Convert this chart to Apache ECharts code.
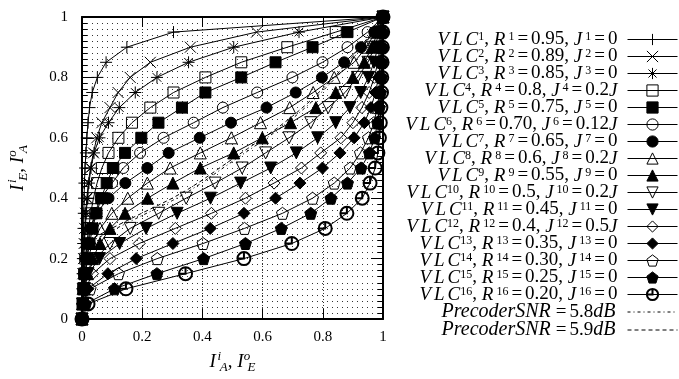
<!DOCTYPE html>
<html>
<head>
<meta charset="utf-8">
<script src="https://cdn.jsdelivr.net/npm/echarts@6/dist/echarts.min.js"></script>
<style>
html, body { margin: 0; padding: 0; background: #fff; }
#main { width: 679px; height: 379px; }
</style>
</head>
<body>
<div id="main"></div>
<script>
// I_E 水平（每条VLC曲线的标记都在这些高度上）
var ieLevels = [0, 0.05, 0.1, 0.15, 0.2, 0.25, 0.3, 0.35, 0.4, 0.45, 0.5,
                0.55, 0.6, 0.65, 0.7, 0.75, 0.8, 0.85, 0.9, 0.95, 1];

// 各VLC曲线在上述高度处的横坐标
var vlc1  = [0, .001, .001, .002, .003, .004, .005, .006, .007, .008, .010, .013, .016, .020, .025, .034, .051, .080, .149, .304, 1];
var vlc2  = [0, .001, .002, .003, .005, .007, .009, .012, .016, .021, .028, .038, .049, .066, .093, .120, .160, .227, .360, .580, 1];
var vlc3  = [0, .001, .003, .004, .006, .008, .011, .014, .018, .023, .030, .040, .058, .088, .124, .177, .249, .354, .504, .721, 1];
var vlc4  = [0, .002, .004, .007, .011, .016, .022, .029, .038, .050, .066, .088, .121, .166, .227, .304, .410, .529, .682, .843, 1];
var vlc5  = [0, .003, .006, .010, .017, .025, .035, .048, .064, .082, .104, .143, .197, .254, .332, .410, .529, .643, .766, .882, 1];
var vlc6  = [0, .003, .007, .011, .016, .022, .030, .042, .062, .100, .137, .193, .271, .371, .468, .582, .699, .799, .882, .949, 1];
var vlc7  = [0, .002, .004, .007, .011, .018, .028, .048, .088, .144, .217, .288, .391, .495, .613, .710, .797, .871, .927, .971, 1];
var vlc8  = [0, .002, .005, .010, .020, .035, .060, .099, .152, .217, .293, .393, .496, .593, .690, .768, .838, .904, .945, .975, 1];
var vlc9  = [0, .003, .008, .018, .035, .060, .093, .143, .218, .302, .393, .504, .599, .693, .777, .843, .900, .938, .963, .983, 1];
var vlc10 = [0, .002, .006, .015, .045, .093, .160, .255, .346, .442, .532, .610, .688, .760, .818, .874, .915, .950, .972, .988, 1];
var vlc11 = [0, .003, .008, .020, .058, .125, .213, .316, .427, .527, .627, .712, .783, .843, .890, .926, .952, .970, .983, .992, 1];
var vlc12 = [0, .003, .012, .035, .093, .190, .310, .430, .543, .638, .729, .793, .860, .900, .930, .954, .971, .983, .990, .995, 1];
var vlc13 = [0, .004, .020, .086, .180, .302, .426, .538, .643, .724, .799, .857, .904, .938, .960, .975, .985, .991, .995, .997, 1];
var vlc14 = [0, .005, .027, .121, .250, .402, .540, .666, .766, .838, .891, .925, .952, .970, .981, .988, .993, .995, .997, .998, 1];
var vlc15 = [0, .012, .108, .249, .404, .543, .662, .760, .827, .882, .927, .955, .972, .982, .988, .992, .995, .997, .998, .999, 1];
var vlc16 = [0, .020, .146, .344, .538, .697, .808, .880, .931, .957, .974, .983, .988, .991, .993, .995, .996, .997, .998, .999, 1];

// 预编码器曲线
var precoderIa = [0, 0.05, 0.1, 0.15, 0.2, 0.25, 0.3, 0.35, 0.4, 0.45, 0.5,
                  0.55, 0.6, 0.65, 0.7, 0.75, 0.8, 0.85, 0.9, 0.95, 1];
var precoder58 = [.240, .267, .293, .318, .343, .367, .392, .420, .452, .487, .522,
                  .556, .590, .625, .664, .707, .755, .806, .862, .925, 1];
var precoder59 = [.248, .275, .301, .326, .351, .375, .400, .428, .460, .495, .530,
                  .564, .598, .633, .672, .715, .763, .814, .870, .932, 1];

// 图例文字
var vlcRates = ['0.95', '0.89', '0.85', '0.8', '0.75', '0.70', '0.65', '0.6',
                '0.55', '0.5', '0.45', '0.4', '0.35', '0.30', '0.25', '0.20'];
var vlcJ = ['0', '0', '0', '0.2J', '0', '0.12J', '0', '0.2J',
            '0', '0.2J', '0', '0.5J', '0', '0', '0', '0'];
var precoderSnr = ['5.8', '5.9'];

var tickLabels = ['0', '0.2', '0.4', '0.6', '0.8', '1'];

var vlcCurves = [vlc1, vlc2, vlc3, vlc4, vlc5, vlc6, vlc7, vlc8,
                 vlc9, vlc10, vlc11, vlc12, vlc13, vlc14, vlc15, vlc16];

var pentagon = 'path://M0,-1L0.951,-0.309L0.588,0.809L-0.588,0.809L-0.951,-0.309Z';
var downTri = 'path://M0,1L-1,-1L1,-1Z';
var symbols = [
    'path://M0,-1L0,1M-1,0L1,0',
    'path://M-1,-1L1,1M-1,1L1,-1',
    'path://M0,-1L0,1M-1,0L1,0M-0.72,-0.72L0.72,0.72M-0.72,0.72L0.72,-0.72',
    'rect', 'rect', 'circle', 'circle', 'triangle', 'triangle',
    downTri, downTri, 'diamond', 'diamond', pentagon, pentagon,
    'path://M0,-1A1,1,0,1,1,0,1A1,1,0,1,1,0,-1ZM0,-1L0,0L-1,0'
];
var filled = [0, 0, 0, 0, 1, 0, 1, 0, 1, 0, 1, 0, 1, 0, 1, 0];
var sizes = [12, 11, 12, 11, 11, 11, 11, 12, 12, 12, 12, 12, 12, 12, 12, 13];

var font = 'Liberation Serif';

var series = [];
var legendData = [];
var legendText = {};

function eq(v) {
    return '{e|=}{n|' + v + '}';
}

vlcCurves.forEach(function (xs, k) {
    var name = 'VLC' + (k + 1);
    var pts = xs.map(function (x, i) { return [x, ieLevels[i]]; });
    series.push({
        name: name,
        type: 'line',
        data: pts,
        symbol: symbols[k],
        symbolSize: sizes[k],
        showAllSymbol: true,
        clip: false,
        lineStyle: { color: '#000', width: 1 },
        itemStyle: {
            color: filled[k] ? '#000' : 'rgba(0,0,0,0)',
            borderColor: '#000',
            borderWidth: k === 15 ? 2 : 1
        }
    });
    var j = vlcJ[k];
    var jTxt = j.slice(-1) === 'J' ? eq(j.slice(0, -1)) + '{i|J}' : eq(j);
    var sup = '{s|' + (k + 1) + '}';
    legendText[name] = '{v|V}{v|L}{i|C}' + sup + '{n|, }{v|R}' + sup + eq(vlcRates[k] + ', ') +
        '{v|J}' + sup + jTxt + '{g| }';
    legendData.push({ name: name, itemStyle: { borderWidth: k === 15 ? 2 : 1 } });
});

[precoder58, precoder59].forEach(function (ys, k) {
    var name = 'SNR' + k;
    series.push({
        name: name,
        type: 'line',
        data: ys.map(function (y, i) { return [precoderIa[i], y]; }),
        symbol: 'circle',
        showSymbol: false,
        clip: false,
        lineStyle: { color: '#000', width: 1, type: k === 0 ? [3, 3, 1, 3] : [4, 3] },
        itemStyle: { color: '#000' }
    });
    legendText[name] = '{p|PrecoderSNR}' + eq(precoderSnr[k]) + '{p|dB}{g| }';
    legendData.push({ name: name, itemStyle: { opacity: 0, borderWidth: 0 } });
});

var rich = {
    i: { fontFamily: font, fontStyle: 'italic', fontSize: 19, lineHeight: 17, color: '#000' },
    v: { fontFamily: font, fontStyle: 'italic', fontSize: 19, lineHeight: 17, color: '#000', padding: [0, 3, 0, 0] },
    p: { fontFamily: font, fontStyle: 'italic', fontSize: 20, lineHeight: 17, color: '#000', padding: [0, 2, 0, 0] },
    n: { fontFamily: font, fontSize: 19, lineHeight: 17, color: '#000' },
    e: { fontFamily: font, fontSize: 19, lineHeight: 17, color: '#000', padding: [0, 3, 0, 3] },
    s: { fontFamily: font, fontSize: 12, lineHeight: 8, verticalAlign: 'top', color: '#000' },
    g: { width: 5, fontSize: 10 }
};

var nameRich = {
    i: { fontFamily: font, fontStyle: 'italic', fontSize: 19, lineHeight: 24, color: '#000' },
    n: { fontFamily: font, fontSize: 19, lineHeight: 24, color: '#000' },
    sup: { fontFamily: font, fontStyle: 'italic', fontSize: 13, lineHeight: 10, verticalAlign: 'top', width: 1, padding: [0, 0, 0, 3], color: '#000' },
    sub: { fontFamily: font, fontStyle: 'italic', fontSize: 13, lineHeight: 12, verticalAlign: 'bottom', color: '#000' }
};

function tickFmt(v) {
    return tickLabels[Math.round(v / 0.2)];
}

var dotted = { color: '#333', width: 1, type: [1, 4] };

var myChart = echarts.init(document.getElementById('main'), null, { renderer: 'canvas' });

var option = {
    animation: false,
    backgroundColor: '#fff',
    grid: { left: 82, right: 296, top: 17, bottom: 60, containLabel: false, outerBoundsMode: 'none' },
    legend: {
        data: legendData,
        orient: 'vertical',
        align: 'right',
        right: 1,
        top: 30,
        padding: 0,
        itemGap: -2,
        itemWidth: 50,
        itemHeight: 14,
        selectedMode: false,
        lineStyle: { width: 1 },
        itemStyle: { borderWidth: 1 },
        textStyle: { fontFamily: font, fontSize: 19, color: '#000', rich: rich },
        formatter: function (name) { return legendText[name]; }
    },
    xAxis: [{
        type: 'value', min: 0, max: 1, interval: 0.2, position: 'bottom',
        name: '{i|I}{sup|i}{sub|A}{n|, }{i|I}{sup|o}{sub|E}',
        nameLocation: 'middle', nameGap: 27,
        nameTextStyle: { rich: nameRich },
        axisLine: { show: true, onZero: false, lineStyle: { color: '#000', width: 2 } },
        axisTick: { show: true, inside: true, length: 10, lineStyle: { color: '#000' } },
        axisLabel: { margin: 11, color: '#000', fontFamily: font, fontSize: 15, formatter: tickFmt },
        splitLine: { show: true, lineStyle: { color: '#333', width: 1, type: [1, 2] } }
    }, {
        type: 'value', min: 0, max: 1, interval: 0.2, position: 'top',
        axisLine: { show: true, onZero: false, lineStyle: { color: '#000', width: 2 } },
        axisTick: { show: true, inside: true, length: 10, lineStyle: { color: '#000' } },
        axisLabel: { show: false },
        splitLine: { show: false }
    }],
    yAxis: [{
        type: 'value', min: 0, max: 1, interval: 0.2, position: 'left',
        name: '{i|I}{sup|i}{sub|E}{n|, }{i|I}{sup|o}{sub|A}',
        nameLocation: 'middle', nameGap: 52, nameRotate: 90,
        nameTextStyle: { rich: nameRich },
        axisLine: { show: true, onZero: false, lineStyle: { color: '#000', width: 2 } },
        axisTick: { show: true, inside: true, length: 12, lineStyle: { color: '#000' } },
        minorTick: { show: true, splitNumber: 10, length: 5, lineStyle: { color: '#000' } },
        axisLabel: { margin: 14, color: '#000', fontFamily: font, fontSize: 15, formatter: tickFmt },
        splitLine: { show: true, lineStyle: dotted },
        minorSplitLine: { show: true, lineStyle: dotted }
    }, {
        type: 'value', min: 0, max: 1, interval: 0.2, position: 'right',
        axisLine: { show: true, onZero: false, lineStyle: { color: '#000', width: 2 } },
        axisTick: { show: true, inside: true, length: 12, lineStyle: { color: '#000' } },
        minorTick: { show: true, splitNumber: 10, length: 5, lineStyle: { color: '#000' } },
        axisLabel: { show: false },
        splitLine: { show: false }
    }],
    series: series
};

myChart.setOption(option);
</script>
</body>
</html>
